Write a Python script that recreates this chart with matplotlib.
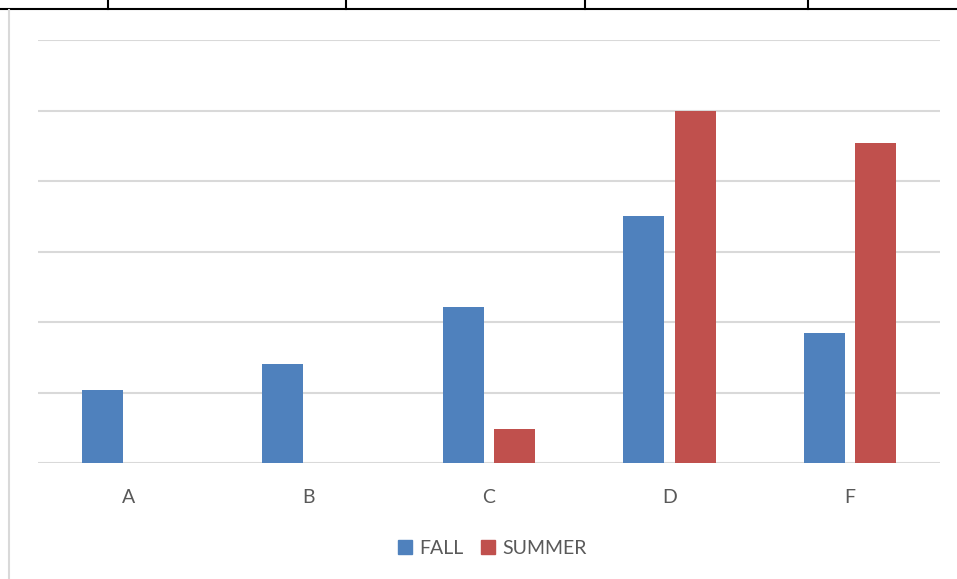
import matplotlib.pyplot as plt
from matplotlib.lines import Line2D
from matplotlib.patches import Patch
import numpy as np

categories = ['A', 'B', 'C', 'D', 'F']
fall = [1.035, 1.41, 2.21, 3.50, 1.84]
summer = [0, 0, 0.48, 5.0, 4.535]

BLUE = '#4F81BD'
RED = '#C0504D'
GRID = '#D9D9D9'
TEXT = '#595959'

W, H = 957, 579
fig = plt.figure(figsize=(W / 100, H / 100), dpi=100)
plt.rcParams['font.family'] = ['Lato', 'DejaVu Sans']

ax = fig.add_axes([38 / W, 1 - 463 / H, (940 - 38) / W, (463 - 40) / H])

x = np.arange(len(categories))
width = 0.227
offset = 0.1425
ax.bar(x - offset, fall, width, color=BLUE, zorder=3)
ax.bar(x + offset, summer, width, color=RED, zorder=3)

ax.set_xlim(-0.5, len(categories) - 0.5)
ax.set_ylim(0, 6)
ax.set_yticks(range(0, 7))
ax.yaxis.grid(True, color=GRID, linewidth=1.5, zorder=0)
ax.tick_params(axis='y', length=0, labelleft=False)
ax.set_xticks(x)
ax.set_xticklabels(categories)
ax.tick_params(axis='x', length=0, pad=19, labelsize=14, labelcolor=TEXT)
for s in ax.spines.values():
    s.set_visible(False)

handles = [Patch(color=BLUE, label='FALL'), Patch(color=RED, label='SUMMER')]
fig.legend(handles=handles, loc='center', bbox_to_anchor=(492 / W, 1 - 548 / H),
           ncol=2, frameon=False, fontsize=14, labelcolor=TEXT,
           handlelength=0.75, handleheight=0.75, handletextpad=0.35, columnspacing=0.9)

# table border strip along the top and frame edge on the left
def px_line(xs, ys, color, lw):
    fig.add_artist(Line2D([v / W for v in xs], [1 - v / H for v in ys],
                          color=color, linewidth=lw, transform=fig.transFigure))

px_line([0, W], [9, 9], 'black', 1.5)
for xv in [108, 346, 585, 808]:
    px_line([xv, xv], [0, 9], 'black', 1.5)
px_line([9, 9], [10, H], GRID, 1.5)

fig.savefig('out.png', dpi=100)
